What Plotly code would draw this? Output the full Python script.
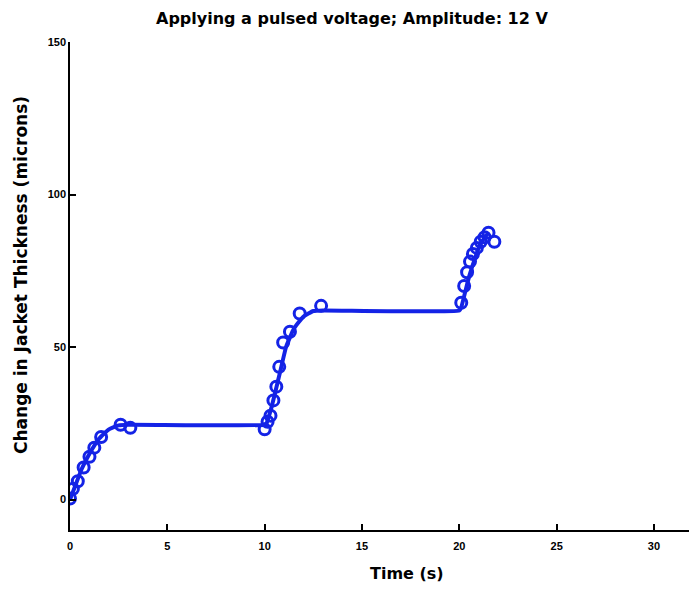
import plotly.graph_objects as go

# Fitted curve (time in s, thickness change in microns)
line_t = [0, 0.3, 0.6, 1.0, 1.5, 2.0, 2.5, 3.0, 10.0, 10.1, 10.3, 10.5, 10.8, 11.1, 11.5, 12.0, 12.5, 13.0,
          20.0, 20.1, 20.3, 20.5, 20.8, 21.1, 21.5]
line_y = [0, 5, 10, 15, 20, 23, 24.3, 24.5, 24.5, 25, 29, 34, 42, 50, 56, 60, 61.8, 62,
          62, 63, 68, 73, 79, 84, 87.5]

# Measured points
meas_t = [0.0, 0.15, 0.4, 0.7, 1.0, 1.25, 1.6, 2.6, 3.1,
          10.0, 10.15, 10.3, 10.45, 10.6, 10.75, 10.95, 11.3, 11.8, 12.9,
          20.1, 20.25, 20.4, 20.55, 20.7, 20.9, 21.1, 21.3, 21.5, 21.8]
meas_y = [0.3, 3.5, 6.0, 10.5, 14.0, 17.0, 20.5, 24.5, 23.5,
          23.0, 25.5, 27.5, 32.5, 37.0, 43.5, 51.5, 55.0, 61.0, 63.5,
          64.5, 70.0, 74.5, 78.0, 80.5, 82.5, 84.5, 86.0, 87.5, 84.5]

x_ticks = [0, 5, 10, 15, 20, 25, 30]
y_ticks = [0, 50, 100, 150]

blue = "rgb(20,35,230)"
font_fam = "Liberation Sans, Arial, sans-serif"
title_fam = "DejaVu Sans, sans-serif"

fig = go.Figure()
fig.add_trace(go.Scatter(x=line_t, y=line_y, mode="lines",
                         line=dict(color=blue, width=4, shape="spline", smoothing=0.4),
                         showlegend=False, hoverinfo="skip"))
fig.add_trace(go.Scatter(x=meas_t, y=meas_y, mode="markers",
                         marker=dict(symbol="circle-open", size=11, color=blue,
                                     line=dict(width=3, color=blue)),
                         showlegend=False))

W, H = 689, 589
L, R, T, B = 70, 0, 42, 59
pw, ph = W - L - R, H - T - B

tf = dict(size=11, family=font_fam, weight="bold", color="black")
fig.update_layout(
    width=W, height=H,
    margin=dict(l=L, r=R, t=T, b=B, autoexpand=False),
    paper_bgcolor="white", plot_bgcolor="white",
    font=dict(family=font_fam, color="black"),
    xaxis=dict(range=[0, 31.8], tickvals=x_ticks, ticktext=[str(v) for v in x_ticks],
               ticks="inside", ticklen=6, tickwidth=1.5, tickcolor="black",
               showline=True, linecolor="black", linewidth=1.5, showgrid=False,
               zeroline=False, tickfont=tf, automargin=False, ticklabelstandoff=5),
    yaxis=dict(range=[-10, 150], tickvals=y_ticks, ticktext=[str(v) for v in y_ticks],
               ticks="inside", ticklen=6, tickwidth=1.5, tickcolor="black",
               showline=True, linecolor="black", linewidth=1.5, showgrid=False,
               zeroline=False, tickfont=tf, automargin=False),
)

af = dict(size=16, family=title_fam, weight="bold", color="black")
fig.add_annotation(text="Applying a pulsed voltage; Amplitude: 12 V", xref="paper", yref="paper",
                   x=(352 - L) / pw, y=1 + (T - 19) / ph, xanchor="center", yanchor="middle",
                   showarrow=False, font=af)
fig.add_annotation(text="Time (s)", xref="paper", yref="paper",
                   x=(407 - L) / pw, y=-(573 - (H - B)) / ph, xanchor="center", yanchor="middle",
                   showarrow=False, font=af)
fig.add_annotation(text="Change in Jacket Thickness (microns)", xref="paper", yref="paper",
                   textangle=-90, x=-(L - 21) / pw, y=((H - B) - 275) / ph,
                   xanchor="center", yanchor="middle",
                   showarrow=False, font=dict(af, size=17))

fig.write_html("out.html", config={"displayModeBar": False},
               post_script="document.body.style.margin='0';")
